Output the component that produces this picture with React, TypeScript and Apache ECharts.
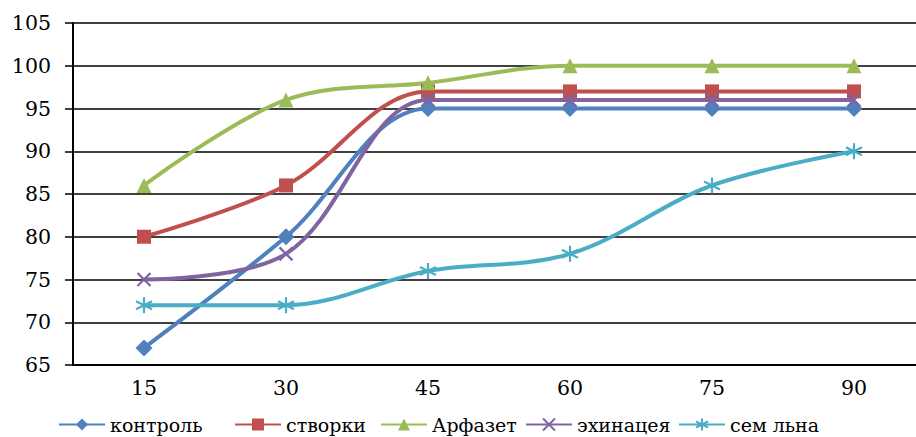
import React, { useEffect, useRef } from "react";
import * as echarts from "echarts";

const days = ["15", "30", "45", "60", "75", "90"];
const kontrol = [67, 80, 95, 95, 95, 95];
const stvorki = [80, 86, 97, 97, 97, 97];
const arfazet = [86, 96, 98, 100, 100, 100];
const ehinaceya = [75, 78, 96, 96, 96, 96];
const semLna = [72, 72, 76, 78, 86, 90];
const seriesNames = ["контроль", "створки", "Арфазет", "эхинацея", "сем льна"];

const FONT = "DejaVu Serif";
const CROSS = "path://M0,0L10,10M10,0L0,10";
const ASTER = "path://M5,0L5,10M0,2.5L10,7.5M0,7.5L10,2.5";
// left edge of each legend entry along the bottom row
const legendLefts = [58, 234, 380, 525, 678];

function lineSeries(name: string, data: number[], color: string, symbol: string, size: number, hollow = false) {
  return {
    name,
    type: "line",
    data,
    smooth: 0.35,
    symbol,
    symbolSize: size,
    color,
    lineStyle: { color, width: 4 },
    itemStyle: hollow
      ? { color: "rgba(0,0,0,0)", borderColor: color, borderWidth: 2.2 }
      : { color, borderWidth: 0 },
    z: 3,
  };
}

export default function App() {
  const ref = useRef<HTMLDivElement>(null);
  useEffect(() => {
    if (!ref.current) return;
    const chart = echarts.init(ref.current, undefined, { renderer: "svg" });
    chart.setOption({
      animation: false,
      backgroundColor: "#fff",
      textStyle: { fontFamily: FONT },
      grid: { left: 73, right: 5, top: 23, bottom: 72 },
      legend: seriesNames.map((n, i) => ({
        bottom: 3,
        left: legendLefts[i],
        padding: 0,
        itemWidth: 46,
        itemHeight: 15,
        textStyle: { fontFamily: FONT, fontSize: 19, color: "#000" },
        data: [n],
      })),
      xAxis: {
        type: "category",
        data: days,
        boundaryGap: true,
        axisLine: { lineStyle: { color: "#000", width: 2 } },
        axisTick: { alignWithLabel: true, length: 8, lineStyle: { color: "#000", width: 1.5 } },
        axisLabel: { fontFamily: FONT, fontSize: 20.5, color: "#000", margin: 12 },
      },
      yAxis: {
        type: "value",
        min: 65,
        max: 105,
        interval: 5,
        axisLine: { show: true, lineStyle: { color: "#000", width: 2 } },
        axisTick: { show: true, length: 8, lineStyle: { color: "#000", width: 1.5 } },
        axisLabel: { fontFamily: FONT, fontSize: 20.5, color: "#000", margin: 22 },
        splitLine: { lineStyle: { color: "#000", width: 1.5 } },
      },
      series: [
        lineSeries(seriesNames[0], kontrol, "#4F81BD", "diamond", 17),
        lineSeries(seriesNames[1], stvorki, "#C0504D", "rect", 14),
        lineSeries(seriesNames[2], arfazet, "#9BBB59", "triangle", 15),
        lineSeries(seriesNames[3], ehinaceya, "#8064A2", CROSS, 13, true),
        lineSeries(seriesNames[4], semLna, "#4BACC6", ASTER, 16, true),
      ],
    });
    return () => chart.dispose();
  }, []);
  return (
    <div
      ref={ref}
      style={{ position: "fixed", left: 0, top: 0, width: 930, height: 437 }}
    />
  );
}
